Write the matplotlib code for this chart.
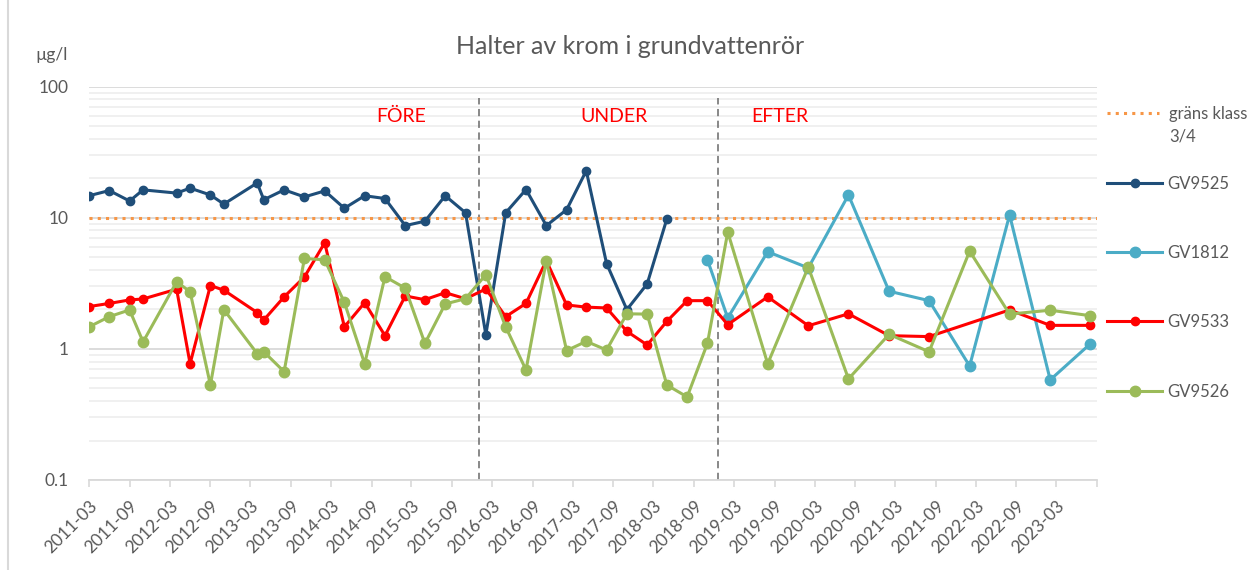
import pandas as pd
import matplotlib
matplotlib.use("Agg")
import matplotlib.pyplot as plt
from matplotlib.lines import Line2D
from matplotlib.ticker import LogLocator, NullFormatter

plt.rcParams["font.family"] = ["Lato", "DejaVu Sans"]

# sampling dates (first 30 are shared by the three old wells)
dates_old = ["2011-03", "2011-06", "2011-09", "2011-11", "2012-04", "2012-06",
             "2012-09", "2012-11", "2013-04", "2013-05", "2013-08", "2013-11",
             "2014-02", "2014-05", "2014-08", "2014-11", "2015-02", "2015-05",
             "2015-08", "2015-11", "2016-02", "2016-05", "2016-08", "2016-11",
             "2017-02", "2017-05", "2017-08", "2017-11", "2018-02", "2018-05"]
dates_late = ["2018-08", "2018-11", "2019-02", "2019-08", "2020-02", "2020-08",
              "2021-02", "2021-08", "2022-02", "2022-08", "2023-02", "2023-08"]

dates_9525 = dates_old
gv9525 = [14.7, 16.1, 13.4, 16.3, 15.4, 16.8, 14.9, 12.7, 18.4, 13.7,
          16.3, 14.4, 16.0, 11.8, 14.7, 14.0, 8.7, 9.4, 14.7, 10.9,
          1.28, 10.9, 16.4, 8.7, 11.5, 22.8, 4.47, 1.99, 3.13, 9.77]

dates_1812 = dates_late[1:]
gv1812 = [4.77, 1.72, 5.50, 4.14, 14.9, 2.75, 2.33, 0.74, 10.5, 0.58, 1.09]

dates_9533 = dates_old + [d for d in dates_late if d != "2022-02"]
gv9533 = [2.10, 2.22, 2.36, 2.40, 2.85, 0.77, 3.04, 2.80, 1.89, 1.66,
          2.49, 3.53, 6.44, 1.47, 2.25, 1.26, 2.53, 2.37, 2.68, 2.41,
          2.86, 1.76, 2.22, 4.71, 2.16, 2.08, 2.05, 1.36, 1.07, 1.62,
          2.33, 2.33, 1.53, 2.49, 1.50, 1.85, 1.26, 1.24, 1.98, 1.51, 1.51]

dates_9526 = dates_old + dates_late
gv9526 = [1.47, 1.76, 1.98, 1.13, 3.24, 2.73, 0.53, 1.99, 0.92, 0.95,
          0.67, 4.89, 4.77, 2.26, 0.77, 3.55, 2.90, 1.10, 2.20, 2.41,
          3.68, 1.47, 0.69, 4.71, 0.97, 1.14, 0.98, 1.85, 1.84, 0.53,
          0.43, 1.10, 7.77, 0.77, 4.20, 0.59, 1.29, 0.95, 5.56, 1.84, 1.97, 1.79]

limit_value = 10
period_bounds = ["2016-01-01", "2018-12-20"]
period_names = ["FÖRE", "UNDER", "EFTER"]
period_label_dates = ["2015-01-15", "2017-09-03", "2019-09-25"]

GRAY = "#595959"

fig = plt.figure(figsize=(12.5, 5.7), dpi=100)
ax = fig.add_axes([0.0712, 0.1579, 0.8064, 0.6903])

ax.set_yscale("log")
ax.set_ylim(0.1, 100)
ax.set_yticks([0.1, 1, 10, 100])
ax.set_yticklabels(["0.1", "1", "10", "100"])
ax.yaxis.set_minor_locator(LogLocator(base=10, subs=range(2, 10)))
ax.yaxis.set_minor_formatter(NullFormatter())
ax.grid(which="major", axis="y", color="#D9D9D9", lw=1.3)
ax.grid(which="minor", axis="y", color="#EFEFEF", lw=1.3)
ax.set_axisbelow(True)

x0, x1 = pd.Timestamp("2011-03-01"), pd.Timestamp("2023-09-01")
ax.set_xlim(x0, x1)
tick_dates = pd.date_range(x0, x1, freq="6MS")
tick_labels = [d.strftime("%Y-%m") for d in tick_dates[:-1]] + [""]
ax.set_xticks(tick_dates)
ax.set_xticklabels(tick_labels, rotation=45, ha="right", rotation_mode="anchor")
ax.tick_params(axis="x", length=5, color="#D9D9D9", width=1.2, labelsize=12.5,
               labelcolor=GRAY, pad=8)
ax.tick_params(axis="y", which="both", length=0, labelsize=12.5, labelcolor=GRAY, pad=15)

for s in ["top", "right", "left"]:
    ax.spines[s].set_visible(False)
ax.spines["bottom"].set_color("#D9D9D9")
ax.spines["bottom"].set_linewidth(1.3)

# period dividers
for b in period_bounds:
    ax.vlines(pd.Timestamp(b), 0.1, 82, colors="#7F7F7F", linestyles=(0, (4, 2.5)), lw=1.3)
for name, d in zip(period_names, period_label_dates):
    ax.text(pd.Timestamp(d), 59, name, color="#FF0000", fontsize=14,
            ha="center", va="center")

lim, = ax.plot([x0, x1], [limit_value, limit_value], color="#F79646", lw=2.2,
               linestyle=(0, (1, 1.7)), label="gräns klass")
l1, = ax.plot(pd.to_datetime(dates_9525), gv9525, color="#1F4E79", lw=2.2,
              marker="o", ms=6, label="GV9525")
l2, = ax.plot(pd.to_datetime(dates_1812), gv1812, color="#4BACC6", lw=2.2,
              marker="o", ms=7.5, label="GV1812")
l3, = ax.plot(pd.to_datetime(dates_9533), gv9533, color="#FF0000", lw=2.2,
              marker="o", ms=6, label="GV9533")
l4, = ax.plot(pd.to_datetime(dates_9526), gv9526, color="#9BBB59", lw=2.2,
              marker="o", ms=7.5, label="GV9526")

# two legends: the limit line (two-line label) and the wells
fig.legend(handles=[lim], loc="center left", bbox_to_anchor=(0.8856, 1 - 114 / 570),
           frameon=False, fontsize=12, labelcolor=GRAY, handlelength=3.1,
           handletextpad=0.6, borderpad=0, borderaxespad=0)
fig.legend(handles=[l1, l2, l3, l4], loc="center left",
           bbox_to_anchor=(0.8856, 0.4956), frameon=False, fontsize=12,
           labelcolor=GRAY, handlelength=3.3, handletextpad=0.3,
           labelspacing=3.2, borderpad=0, borderaxespad=0)
fig.text(1169 / 1250, 1 - 137 / 570, "3/4", fontsize=12, color=GRAY, ha="left", va="center")

fig.text(630 / 1250, 1 - 47 / 570, "Halter av krom i grundvattenrör", fontsize=18,
         color=GRAY, ha="center", va="center")
fig.text(68 / 1250, 1 - 55 / 570, "µg/l", fontsize=12.5, color=GRAY, ha="right", va="center")

fig.add_artist(Line2D([0.0064, 0.0064], [0, 1], color="#D9D9D9", lw=1.5,
                      transform=fig.transFigure))

fig.savefig("out.png", dpi=100)
